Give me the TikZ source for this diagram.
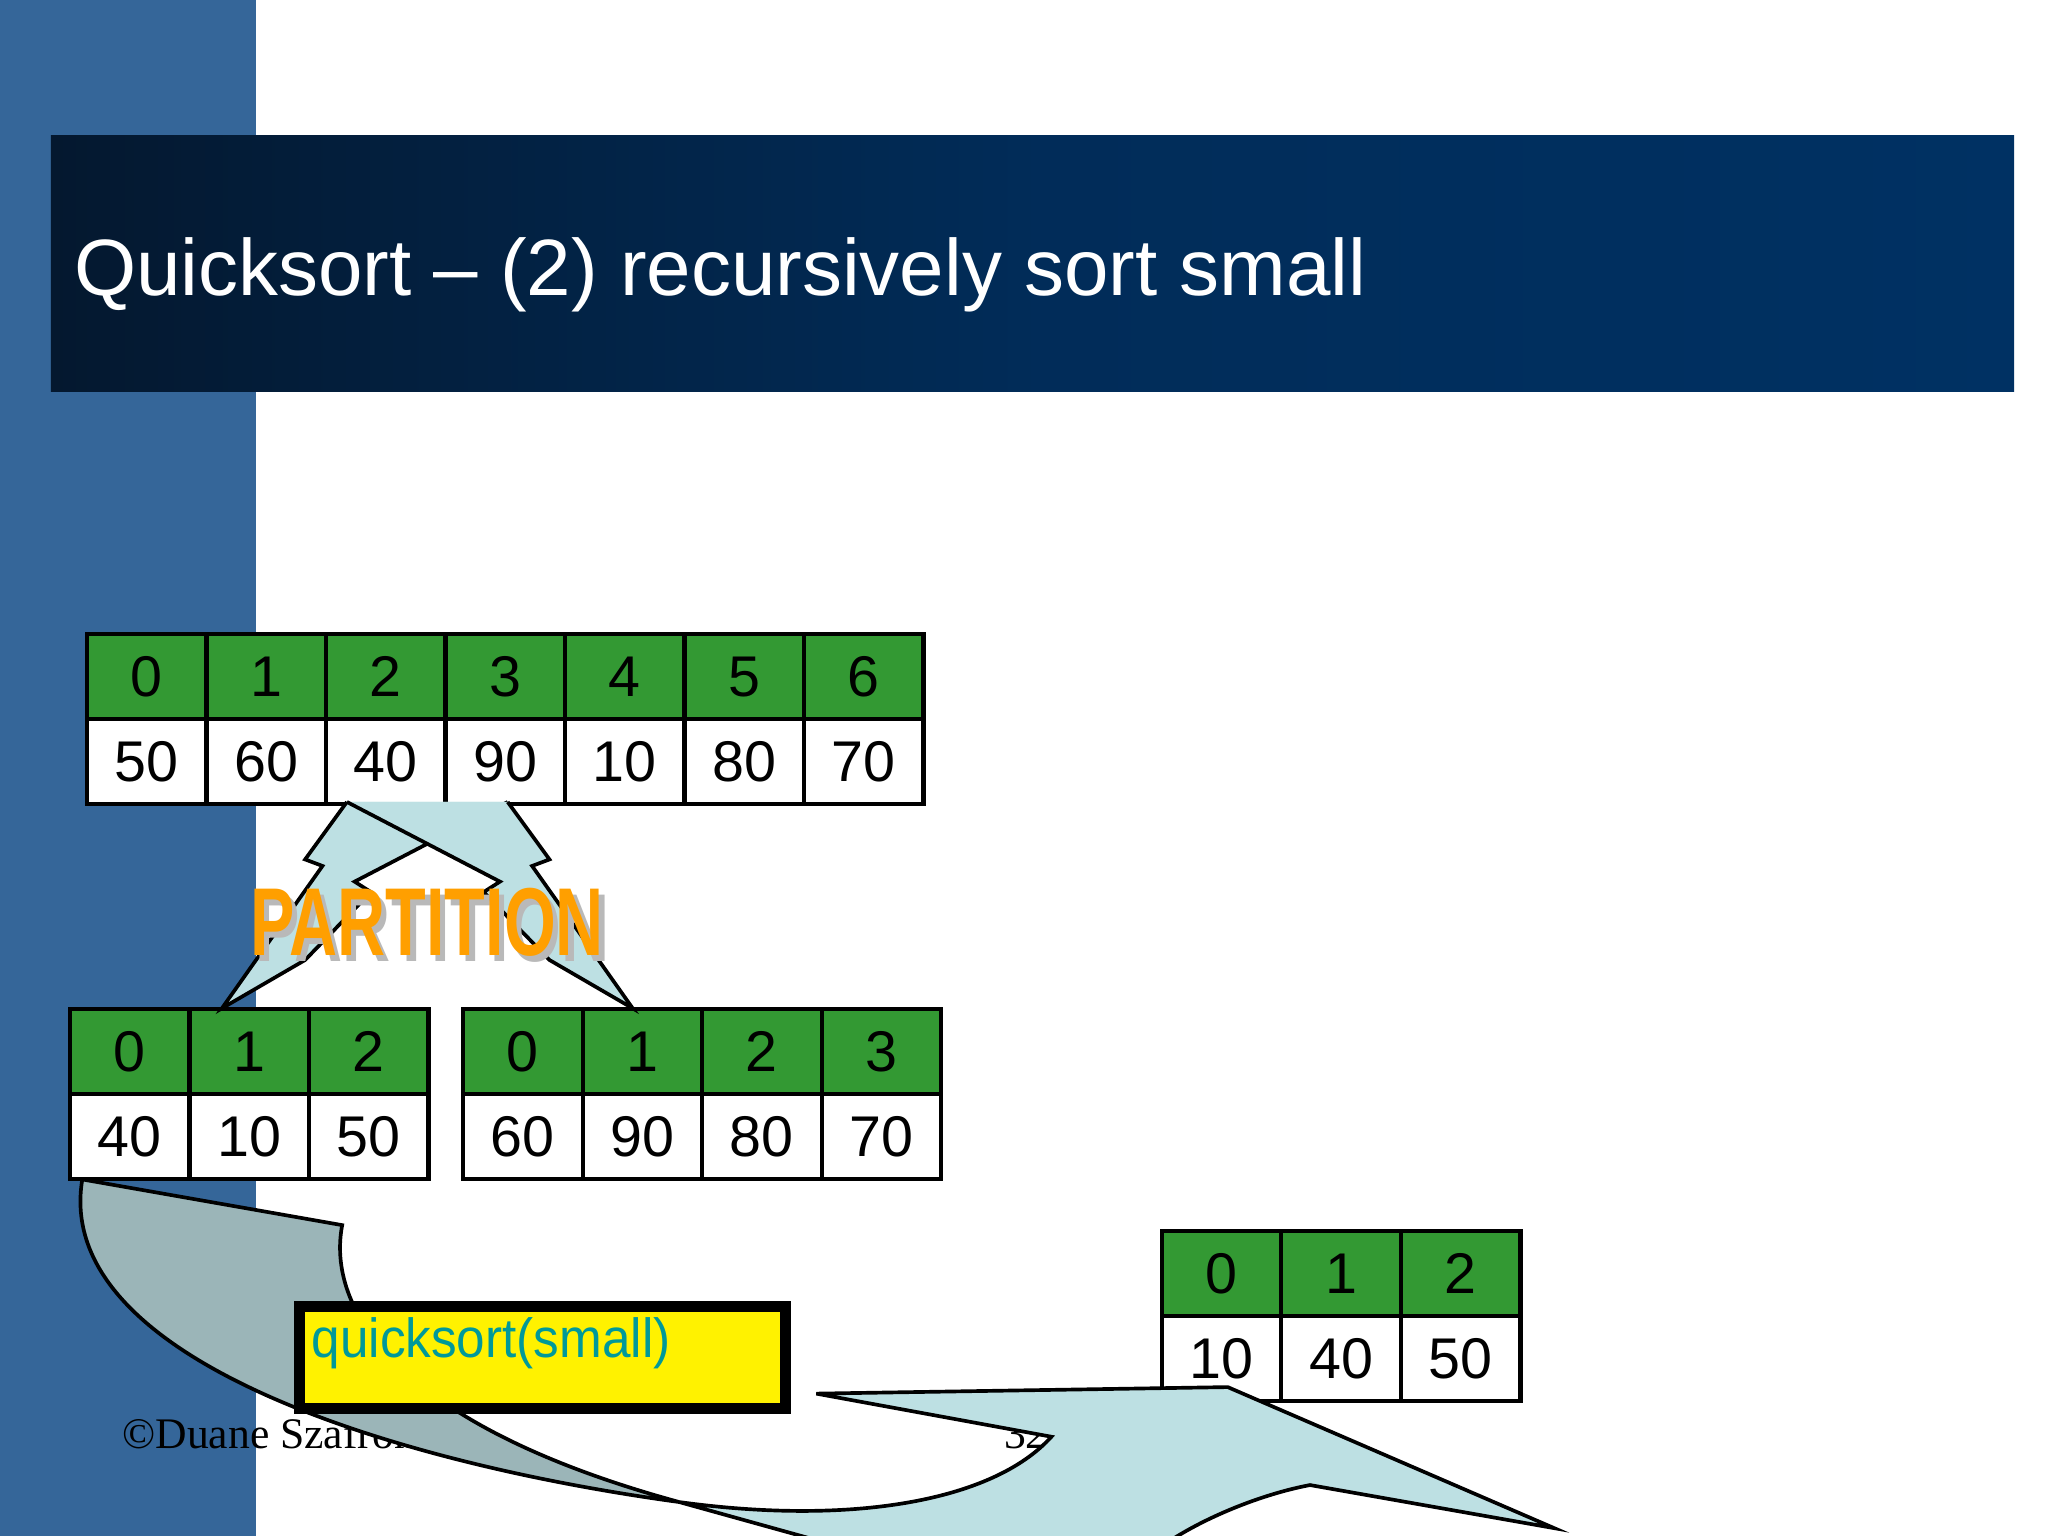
\documentclass[tikz,border=0pt]{standalone}
\usepackage{fontspec}
\setmainfont{Liberation Sans}
\newfontfamily\timesf{Liberation Serif}
\begin{document}
\begin{tikzpicture}[x=0.01cm,y=-0.01cm,
  hdr/.style={draw=black,line width=0.9pt,fill=cellgreen,minimum width=91.5*0.01cm,minimum height=65*0.01cm,inner sep=0pt,font=\fontsize{12.5}{12.5}\selectfont,anchor=north west},
  val/.style={hdr,fill=white},
  lbolt/.style={draw=black,line width=0.8pt,fill=boltblue},
]
\definecolor{cellgreen}{HTML}{339933}
\definecolor{stripblue}{HTML}{356699}
\definecolor{boltblue}{HTML}{BDE0E3}
\definecolor{backface}{HTML}{9BB5B8}
\definecolor{titleL}{HTML}{04182F}
\definecolor{titleR}{HTML}{003163}
\definecolor{teal}{HTML}{009999}
\useasboundingbox (0,0) rectangle (1568,1176);
\fill[white] (0,0) rectangle (1568,1176);
\fill[stripblue] (0,0) rectangle (196,1176);
\shade[left color=titleL,right color=titleR,middle color=titleR!80!titleL] (39,104) rectangle (1542,300);
\node[anchor=base west,text=white,font=\fontsize{17.4}{17.4}\selectfont,inner sep=0pt] (title) at (56,226) {Quicksort – (2) recursively sort small};
% top array
\foreach \v [count=\i from 0] in {50,60,40,90,10,80,70}{
  \node[hdr] (th\i) at (65+91.5*\i,484) {\i};
  \node[val] (tv\i) at (65+91.5*\i,549) {\v};
}
% bottom-left array
\foreach \v [count=\i from 0] in {40,10,50}{
  \node[hdr] (lh\i) at (52+91.5*\i,771) {\i};
  \node[val] (lv\i) at (52+91.5*\i,836) {\v};
}
% bottom-right array
\foreach \v [count=\i from 0] in {60,90,80,70}{
  \node[hdr] (rh\i) at (353+91.5*\i,771) {\i};
  \node[val] (rv\i) at (353+91.5*\i,836) {\v};
}
% result array
\foreach \v [count=\i from 0] in {10,40,50}{
  \node[hdr] (sh\i) at (888+91.5*\i,941) {\i};
  \node[val] (sv\i) at (888+91.5*\i,1006) {\v};
}
% partition bolts
\draw[lbolt] (265.6,614) -- (233.6,658) -- (246.9,663) -- (169.9,772) -- (233.6,735) -- (284,683) -- (271.5,675) -- (388.7,614);
\draw[lbolt] (388.7,614) -- (420.7,658) -- (407.4,663) -- (484.4,772) -- (420.7,735) -- (370.3,683) -- (382.8,675) -- (265.6,614);
\node[font=\bfseries\fontsize{21}{21}\selectfont,text=gray!55,inner sep=0pt,xscale=0.69] (pshadow) at (331,711) {PARTITION};
\node[font=\bfseries\fontsize{21}{21}\selectfont,text=orange!75!yellow,inner sep=0pt,xscale=0.69] (ptext) at (327,706) {PARTITION};
% footer
\node[anchor=base west,font=\timesf\fontsize{9.5}{9.5}\selectfont,inner sep=0pt] (foot) at (93,1109) {©Duane Szafron};
\node[anchor=base west,font=\timesf\fontsize{9.5}{9.5}\selectfont,inner sep=0pt] (pnum) at (768,1109) {32};
% curved arrow
\begin{scope}
\clip (0,0) rectangle (1568,1176);
\draw[fill=backface,line width=0.8pt] (63,903) -- (262,938) .. controls (250,1000) and (300,1090) .. (520,1150) .. controls (300,1120) and (40,1040) .. (63,903) -- cycle;
\draw[fill=boltblue,line width=0.8pt] (520,1150) -- (700,1200) -- (870,1200) .. controls (900,1170) and (960,1145) .. (1003,1137) -- (1190,1170) -- (940,1062) -- (625,1067) -- (805,1100) .. controls (760,1150) and (650,1168) .. (520,1150) -- cycle;
\end{scope}
% yellow box
\node[draw=black,line width=2.4pt,fill=yellow,minimum width=372*0.01cm,minimum height=78*0.01cm,anchor=north west,inner sep=0pt] (qbox) at (225,996) {};
\node[anchor=base west,text=teal,font=\fontsize{12}{12}\selectfont,inner sep=0pt,xscale=0.93] (qtext) at (238,1039) {quicksort(small)};
\end{tikzpicture}
\end{document}
